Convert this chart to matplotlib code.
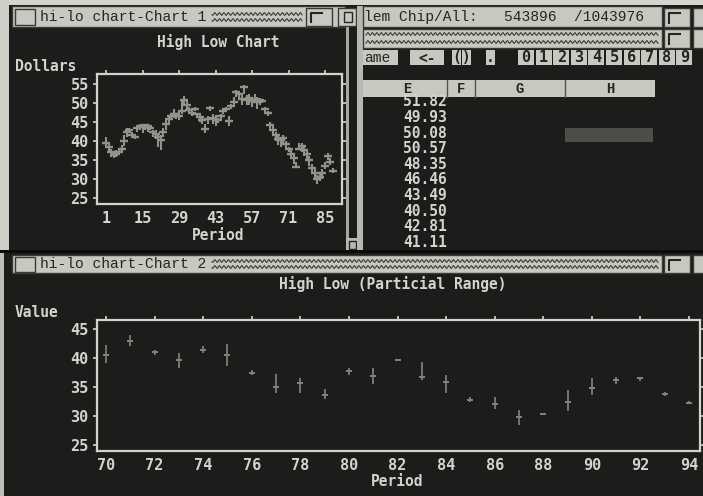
import numpy as np
import matplotlib.pyplot as plt
from matplotlib.patches import Rectangle

# dados do grafico 1 (periodos 1-88)
periods1 = list(range(1, 89))
close1 = [39.5, 38.5, 37.0, 36.2, 36.5, 37.0, 38.0, 40.0, 42.5, 43.0,
          41.5, 41.0, 43.5, 44.0, 43.8, 44.2, 44.0, 43.5, 42.5, 41.8,
          41.0, 40.2, 42.5, 44.5, 45.8, 46.5, 47.2, 47.0, 46.5, 48.0,
          50.8, 49.5, 48.2, 47.5, 48.5, 47.0, 46.2, 45.5, 43.2, 45.8,
          48.8, 46.0, 45.5, 45.5, 46.5, 48.0, 48.5, 45.2, 49.2, 50.3,
          53.0, 52.5, 51.0, 54.3, 50.8, 51.2, 50.5, 51.0, 50.2, 50.8,
          50.5, 48.5, 47.3, 44.3, 43.0, 41.5, 40.5, 40.2, 40.8, 39.3,
          38.0, 36.5, 35.5, 33.2, 38.0, 38.8, 37.5, 36.5, 35.0, 32.8,
          31.5, 30.0, 30.5, 31.5, 33.5, 36.0, 34.5, 32.0]
high1 = [41.0, 39.5, 38.0, 37.2, 37.5, 38.2, 39.0, 41.5, 43.5, 43.5,
         42.5, 41.8, 44.2, 44.5, 44.5, 44.5, 44.5, 44.2, 43.0, 42.8,
         42.0, 41.5, 43.5, 45.5, 46.5, 47.5, 48.5, 47.5, 48.0, 50.5,
         51.8, 50.5, 49.0, 48.5, 49.0, 47.5, 47.0, 46.5, 44.5, 46.5,
         49.2, 47.0, 46.8, 46.0, 47.0, 48.5, 49.0, 46.5, 49.8, 51.5,
         53.5, 53.0, 52.0, 54.8, 52.0, 52.5, 51.5, 52.5, 51.5, 51.2,
         51.0, 49.0, 48.0, 45.0, 44.0, 42.5, 41.5, 41.0, 41.5, 40.0,
         38.5, 37.5, 36.5, 34.5, 39.5, 39.5, 38.5, 37.5, 36.0, 34.0,
         32.5, 31.0, 31.5, 32.5, 34.5, 36.8, 35.5, 33.0]
low1 = [38.5, 37.0, 35.8, 35.5, 35.8, 36.2, 37.0, 38.8, 41.0, 42.0,
        41.0, 40.5, 42.5, 42.8, 42.0, 43.0, 42.5, 42.8, 41.0, 40.5,
        38.5, 37.5, 41.0, 43.0, 44.5, 45.5, 46.0, 45.8, 45.5, 47.0,
        49.5, 48.5, 47.0, 46.5, 47.8, 46.0, 45.0, 44.5, 42.0, 44.5,
        47.8, 44.5, 44.0, 44.8, 45.5, 47.0, 48.0, 44.0, 48.5, 49.5,
        51.5, 51.0, 49.5, 52.5, 49.5, 49.5, 49.0, 50.0, 48.5, 49.5,
        50.0, 47.5, 46.5, 43.0, 41.5, 40.0, 39.0, 38.5, 39.5, 38.0,
        37.0, 35.5, 34.0, 32.8, 37.5, 37.0, 36.0, 35.0, 33.5, 31.5,
        30.0, 28.8, 29.5, 30.0, 32.5, 35.0, 33.8, 31.5]

# dados do grafico 2 (faixa parcial, periodos 70-94)
periods2 = list(range(70, 95))
close2 = [40.5, 43.0, 41.0, 39.7, 41.4, 40.5, 37.5, 35.0, 35.7, 33.6,
          37.8, 36.9, 39.6, 36.8, 35.9, 32.8, 32.1, 29.9, 30.3, 32.5,
          34.8, 36.2, 36.5, 33.8, 32.3]
high2 = [42.2, 44.0, 41.3, 40.8, 42.0, 42.4, 38.0, 37.3, 36.5, 34.6,
         38.2, 38.2, 39.8, 39.3, 37.1, 33.2, 33.2, 31.1, 30.5, 34.4,
         36.6, 36.7, 36.8, 34.2, 32.6]
low2 = [39.2, 42.0, 40.5, 38.2, 40.8, 38.6, 37.0, 34.0, 34.0, 33.0,
        37.0, 35.5, 39.5, 36.2, 33.9, 32.5, 31.2, 28.5, 30.1, 30.8,
        33.7, 35.6, 36.1, 33.5, 32.0]

ticks1_x = [1, 15, 29, 43, 57, 71, 85]
ticks1_y = [25, 30, 35, 40, 45, 50, 55]
ticks2_x = [70, 72, 74, 76, 78, 80, 82, 84, 86, 88, 90, 92, 94]
ticks2_y = [25, 30, 35, 40, 45]

cell_values = ['51.82', '49.93', '50.08', '50.57', '48.35',
               '46.46', '43.49', '40.50', '42.81', '41.11']

BG = '#1d1c1a'
BAR = '#c9c8c0'
DARK = '#26251f'
FG = '#d4d3cb'
MONO = 'DejaVu Sans Mono'
SERIF_MONO = 'Liberation Mono'

W, H = 703, 496
fig = plt.figure(figsize=(W / 100, H / 100), dpi=100, facecolor=BG)

# camada de fundo em pixels (janelas, barras de titulo)
bg = fig.add_axes([0, 0, 1, 1])
bg.set_xlim(0, W)
bg.set_ylim(H, 0)
bg.axis('off')


def rect(x0, y0, x1, y1, color, **kw):
    bg.add_patch(Rectangle((x0, y0), x1 - x0, y1 - y0, facecolor=color,
                           edgecolor=kw.pop('ec', 'none'), lw=kw.pop('lw', 0), **kw))


def wavy(x0, x1, y):
    xs = np.linspace(x0, x1, int((x1 - x0) * 3))
    bg.plot(xs, y + 1.3 * np.sin(xs * 2 * np.pi / 4.5), color='#3a3934', lw=0.8)


def gadget(x0, y0, x1, y1):
    rect(x0, y0, x1, y1, BAR, ec='#3a3934', lw=1)


# bordas claras
rect(0, 0, W, 5, '#d6d5cd')
rect(0, 0, 9, 252, '#cfcec6')
rect(0, 252, 4, H, '#bebdb5')

# janela 1 - barra de titulo
rect(12, 6, 345, 27, BAR, ec='#3a3934', lw=1)
gadget(15, 9, 35, 25)
bg.text(40, 17, 'hi-lo chart-Chart 1', family=SERIF_MONO, fontsize=10.5,
        color=DARK, va='center', ha='left')
wavy(212, 302, 14)
wavy(212, 302, 20)
gadget(306, 8, 332, 26)
bg.plot([311, 311, 322], [22, 13, 13], color=DARK, lw=1.5)
gadget(338, 8, 356, 26)
rect(344, 12, 352, 22, 'none', ec=DARK, lw=1)
rect(346, 27, 349, 238, '#a8a79f')
rect(346, 238, 362, 252, '#b9b8b0')
rect(349, 241, 356, 249, 'none', ec=DARK, lw=1)

# janela da planilha
rect(357, 6, 363, 252, '#b9b8b0')
rect(363, 6, 662, 27, BAR, ec='#3a3934', lw=1)
bg.text(364, 17, 'lem Chip/All:   543896  /1043976', family=SERIF_MONO,
        fontsize=10.5, color=DARK, va='center', ha='left')
gadget(664, 8, 690, 27)
bg.plot([669, 669, 680], [23, 13, 13], color=DARK, lw=1.5)
gadget(693, 8, 710, 27)
rect(363, 29, 662, 48, BAR, ec='#3a3934', lw=1)
wavy(366, 658, 34)
wavy(366, 658, 42)
gadget(664, 29, 690, 48)
bg.plot([669, 669, 680], [44, 34, 34], color=DARK, lw=1.5)
gadget(693, 29, 710, 48)

# linha de botoes
rect(363, 50, 398, 65, BAR)
bg.text(364, 58, 'ame', family=SERIF_MONO, fontsize=10.5, color=DARK, va='center')
rect(410, 50, 444, 65, BAR)
bg.text(427, 58, '<-', family=MONO, fontsize=10.5, weight='bold', color=DARK,
        va='center', ha='center')
for x0, lab in [(452, '('), (462, ')'), (486, '.')]:
    rect(x0, 50, x0 + 9, 65, BAR)
    bg.text(x0 + 4.5, 58, lab, family=MONO, fontsize=10.5, weight='bold',
            color=DARK, va='center', ha='center')
for i in range(10):
    x0 = 518 + i * 17.6
    rect(x0, 50, x0 + 16, 65, BAR)
    bg.text(x0 + 8, 58, str(i), family=MONO, fontsize=11, weight='bold',
            color=DARK, va='center', ha='center')

# cabecalho das colunas
rect(363, 80, 655, 97, BAR)
for xs in [447, 475, 565]:
    bg.plot([xs, xs], [80, 97], color='#55544e', lw=1)
for xc, lab in [(407, 'E'), (461, 'F'), (520, 'G'), (610, 'H')]:
    bg.text(xc, 89, lab, family=SERIF_MONO, fontsize=10, weight='bold',
            color=DARK, va='center', ha='center')
for i, v in enumerate(cell_values):
    bg.text(447, 102 + i * 15.6, v, family=MONO, fontsize=10.5, weight='bold',
            color=FG, va='center', ha='right')
rect(565, 128, 653, 142, '#4e4d48')

# janela 2 - barra de titulo
rect(0, 250, W, 253, '#0c0c0b')
rect(12, 255, 662, 273, BAR, ec='#3a3934', lw=1)
gadget(15, 257, 35, 272)
bg.text(40, 264, 'hi-lo chart-Chart 2', family=SERIF_MONO, fontsize=10.5,
        color=DARK, va='center', ha='left')
wavy(212, 658, 261)
wavy(212, 658, 267)
gadget(664, 255, 690, 273)
bg.plot([669, 669, 680], [270, 260, 260], color=DARK, lw=1.5)
gadget(693, 255, 710, 273)


def hilo_axes(box, xs, hi, lo, cl, xlim, ylim, xt, yt, title, tpos, ylab, ypos,
              xpos, mark, lw, ms):
    x0, y0, x1, y1 = box
    ax = fig.add_axes([x0 / W, 1 - y1 / H, (x1 - x0) / W, (y1 - y0) / H])
    ax.set_facecolor(BG)
    ax.vlines(xs, lo, hi, color=mark, lw=lw)
    ax.plot(xs, cl, ls='none', marker='_', ms=ms, mew=lw + 0.2, color=mark)
    ax.set_xlim(*xlim)
    ax.set_ylim(*ylim)
    ax.set_xticks(xt)
    ax.set_yticks(yt)
    for s in ax.spines.values():
        s.set_color(FG)
        s.set_linewidth(1.6)
    ax.tick_params(axis='both', direction='out', length=3, width=1.2, color=FG,
                   labelcolor=FG, labelsize=11, pad=3,
                   top=True, right=True, bottom=False)
    ax.tick_params(axis='x', pad=2)
    for lbl in ax.get_xticklabels() + ax.get_yticklabels():
        lbl.set_family(MONO)
        lbl.set_weight('bold')
    kw = dict(family=MONO, weight='bold', fontsize=10.5, color=FG,
              transform=ax.transAxes, va='center')
    ax.text(tpos[0], tpos[1], title, ha='center', **kw)
    ax.text(ypos[0], ypos[1], ylab, ha='left', **kw)
    ax.text(xpos[0], xpos[1], 'Period', ha='center', **kw)
    return ax


hilo_axes((97, 74, 342, 204), periods1, high1, low1, close1,
          (-2.45, 91.5), (23.4, 57.65), ticks1_x, ticks1_y,
          'High Low Chart', (0.494, 1.246), 'Dollars', (-0.335, 1.054),
          (0.494, -0.245), '#939289', 1.5, 6)

hilo_axes((97, 320, 700, 451), periods2, high2, low2, close2,
          (69.63, 94.45), (23.97, 46.55), ticks2_x, ticks2_y,
          'High Low (Particial Range)', (0.491, 1.275), 'Value', (-0.136, 1.061),
          (0.4975, -0.235), '#85847c', 1.2, 5)

fig.savefig('out.png', dpi=100, facecolor=BG)
